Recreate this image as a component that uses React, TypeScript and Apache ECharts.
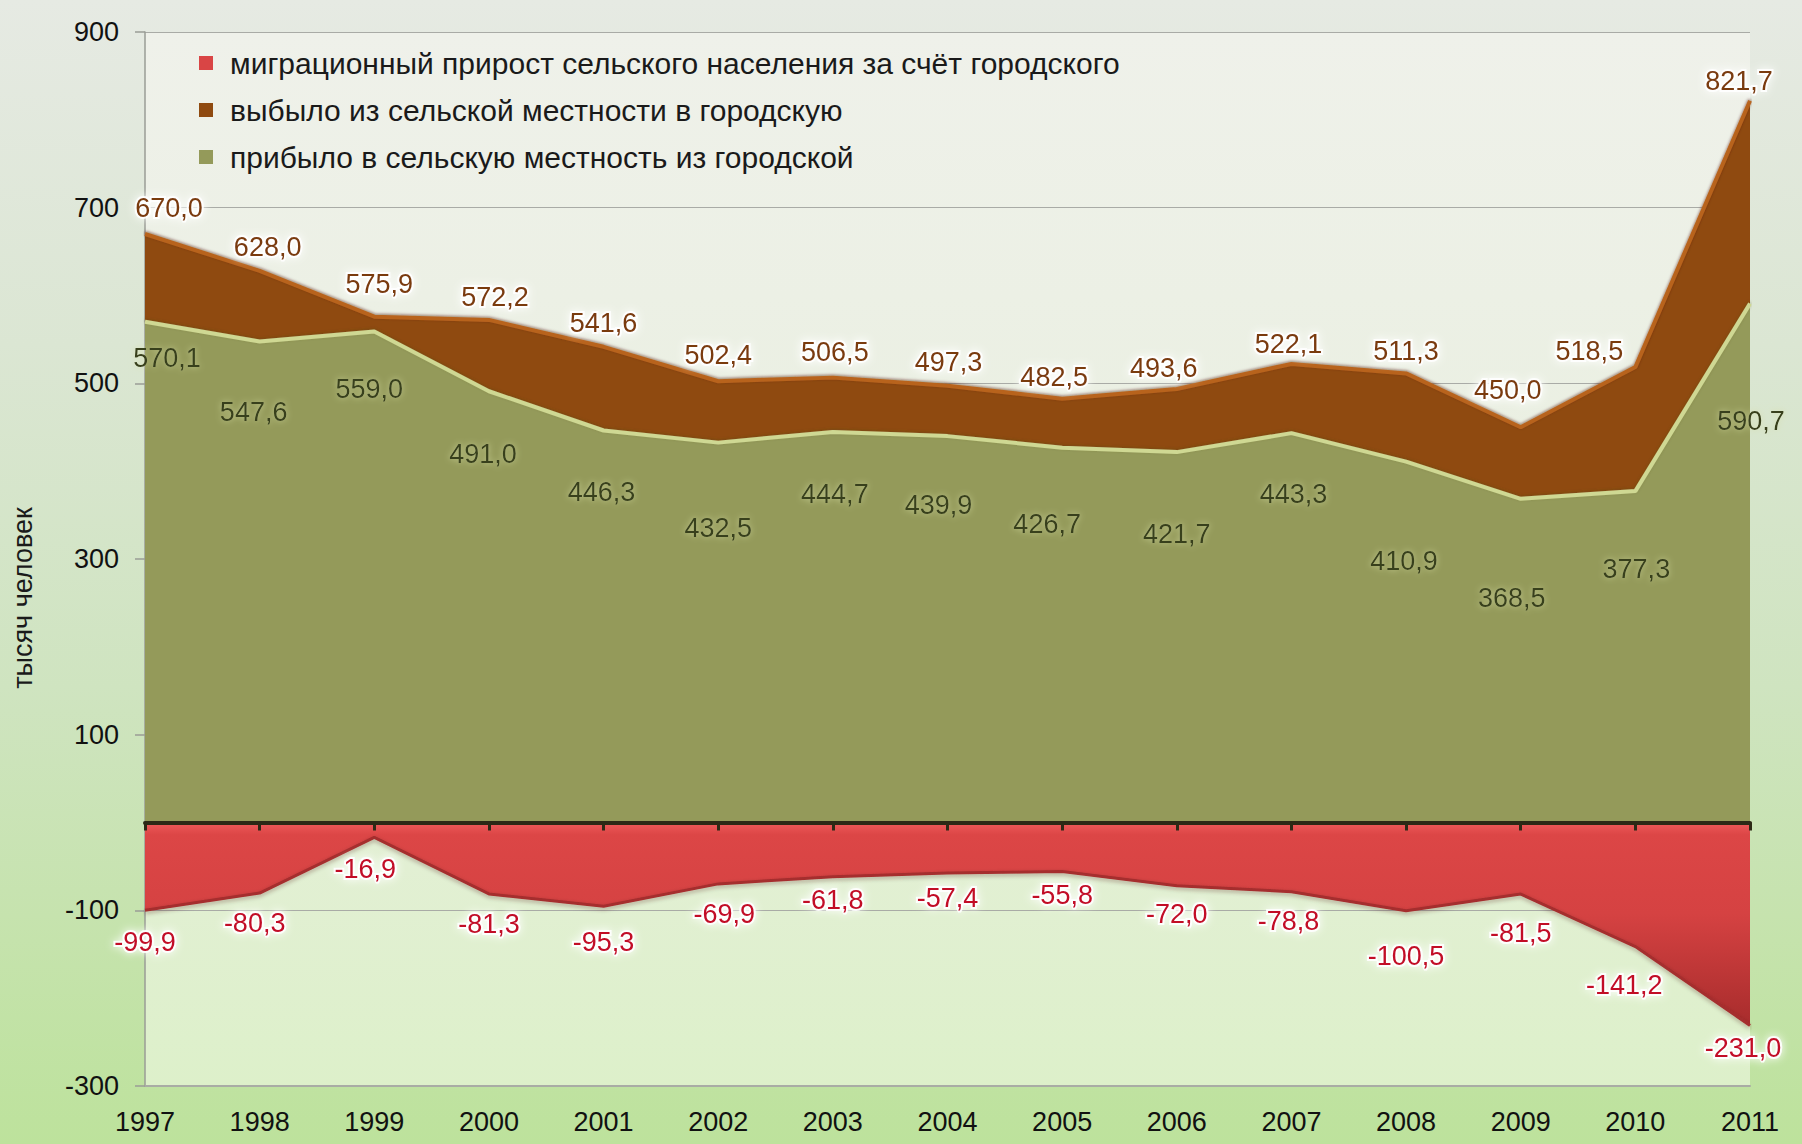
import React, { useEffect, useRef } from "react";
import * as echarts from "echarts";

const years = ["1997", "1998", "1999", "2000", "2001", "2002", "2003", "2004", "2005", "2006", "2007", "2008", "2009", "2010", "2011"];
const arrived = [570.1, 547.6, 559.0, 491.0, 446.3, 432.5, 444.7, 439.9, 426.7, 421.7, 443.3, 410.9, 368.5, 377.3, 590.7];
const departed = [670.0, 628.0, 575.9, 572.2, 541.6, 502.4, 506.5, 497.3, 482.5, 493.6, 522.1, 511.3, 450.0, 518.5, 821.7];
const netGain = [-99.9, -80.3, -16.9, -81.3, -95.3, -69.9, -61.8, -57.4, -55.8, -72.0, -78.8, -100.5, -81.5, -141.2, -231.0];

const nameGain = "миграционный прирост сельского населения за счёт городского";
const nameDeparted = "выбыло из сельской местности в городскую";
const nameArrived = "прибыло в сельскую местность из городской";
const yAxisTitle = "тысяч человек";

// label nudges (pixels) relative to each point
const departedLabelDx = [24, 8, 5, 6, 0, 0, 2, 1, -8, -13, -3, 0, -13, -46, -11];
const departedLabelDy = [-26, -24, -33, -23, -24, -26, -26, -24, -22, -21, -20, -22, -37, -16, -20];
const arrivedLabelDx = [22, -6, -5, -6, -2, 0, 2, -9, -15, 0, 2, -2, -9, 1, 1];
const arrivedLabelDy = [36, 70, 57, 63, 62, 85, 62, 69, 76, 82, 61, 99, 99, 78, 117];
const gainLabelDx = [0, -5, -9, 0, 0, 6, 0, 0, 0, 0, -3, 0, 0, -11, -7];
const gainLabelDy = [32, 30, 32, 30, 36, 30, 23, 25, 23, 28, 29, 45, 39, 38, 23];

const FONT = "'Liberation Sans', Arial, sans-serif";
const fmt = (v: number) => v.toFixed(1).replace(".", ",");

const withOffsets = (vals: number[], dx: number[], dy: number[]) =>
  vals.map((v, i) => ({ value: v, label: { offset: [dx[i], dy[i]] } }));

export default function App() {
  const ref = useRef<HTMLDivElement>(null);
  useEffect(() => {
    if (!ref.current) return;
    const chart = echarts.init(ref.current, null, { renderer: "svg" });
    const G = echarts.graphic.LinearGradient;
    const labelBase = {
      show: true,
      position: "inside",
      fontSize: 27,
      fontFamily: FONT,
      formatter: (p: any) => fmt(p.value),
    };
    chart.setOption({
      animation: false,
      backgroundColor: "transparent",
      grid: {
        left: 145,
        right: 52,
        top: 32,
        bottom: 58,
        show: true,
        borderWidth: 0,
        backgroundColor: new G(0, 0, 0, 1, [
          { offset: 0, color: "#eff1ea" },
          { offset: 0.5, color: "#e9efe0" },
          { offset: 1, color: "#ddf0ca" },
        ]),
      },
      legend: {
        data: [nameGain, nameDeparted, nameArrived],
        orient: "vertical",
        left: 194,
        top: 43,
        icon: "rect",
        itemWidth: 14,
        itemHeight: 14,
        itemGap: 17,
        selectedMode: false,
        textStyle: {
          fontSize: 30,
          lineHeight: 30,
          fontFamily: FONT,
          color: "#1a1a1a",
          padding: [0, 0, 0, 12],
        },
      },
      graphic: [
        {
          type: "text",
          x: 23,
          y: 598,
          rotation: Math.PI / 2,
          style: {
            text: yAxisTitle,
            fontSize: 27,
            fontFamily: FONT,
            fill: "#1a1a1a",
            align: "center",
            verticalAlign: "middle",
          },
        },
      ],
      xAxis: [
        {
          type: "category",
          data: years,
          boundaryGap: false,
          position: "bottom",
          axisLine: { onZero: false, lineStyle: { color: "#a9aca5", width: 2 } },
          axisTick: { show: false },
          axisLabel: { fontSize: 27, fontFamily: FONT, color: "#111111", margin: 22 },
          splitLine: { show: false },
        },
        {
          type: "category",
          data: years,
          boundaryGap: false,
          position: "bottom",
          z: 10,
          axisLine: { onZero: true, lineStyle: { color: "#2c2916", width: 4 } },
          axisTick: { show: true, inside: false, length: 8, lineStyle: { color: "#2c2916", width: 3 } },
          axisLabel: { show: false },
          splitLine: { show: false },
        },
      ],
      yAxis: {
        type: "value",
        min: -300,
        max: 900,
        interval: 200,
        axisLine: { show: true, lineStyle: { color: "#9a9c96", width: 1.5 } },
        axisTick: { show: true, length: 10, lineStyle: { color: "#9a9c96", width: 1.5 } },
        axisLabel: { fontSize: 27, fontFamily: FONT, color: "#111111", margin: 26 },
        splitLine: { show: true, lineStyle: { color: "#a9aba6", width: 1.2 } },
      },
      series: [
        {
          name: nameDeparted,
          type: "line",
          data: withOffsets(departed, departedLabelDx, departedLabelDy),
          symbol: "circle",
          symbolSize: 0,
          itemStyle: { color: "#8f4a10" },
          lineStyle: {
            color: "#b8631f",
            width: 4,
            shadowColor: "rgba(70,25,0,0.55)",
            shadowBlur: 3,
            shadowOffsetY: -1,
          },
          areaStyle: { color: "#8f4a10", opacity: 1 },
          label: {
            ...labelBase,
            color: "#7a3a10",
            textBorderColor: "rgba(255,255,255,0.9)",
            textBorderWidth: 4,
            textShadowColor: "#ffffff",
            textShadowBlur: 8,
          },
          z: 2,
        },
        {
          name: nameArrived,
          type: "line",
          data: withOffsets(arrived, arrivedLabelDx, arrivedLabelDy),
          symbol: "circle",
          symbolSize: 0,
          itemStyle: { color: "#949a5a" },
          lineStyle: {
            color: "#cfd893",
            width: 4,
            shadowColor: "rgba(80,70,20,0.35)",
            shadowBlur: 3,
            shadowOffsetY: -1,
          },
          areaStyle: { color: "#949a5a", opacity: 1 },
          label: {
            ...labelBase,
            color: "#38411a",
            textShadowColor: "rgba(215,222,165,0.8)",
            textShadowBlur: 6,
          },
          z: 3,
        },
        {
          name: nameGain,
          type: "line",
          data: withOffsets(netGain, gainLabelDx, gainLabelDy),
          symbol: "circle",
          symbolSize: 0,
          itemStyle: { color: "#d94545" },
          lineStyle: {
            color: "#a52e2e",
            width: 3,
            shadowColor: "rgba(60,10,10,0.35)",
            shadowBlur: 4,
            shadowOffsetY: 2,
          },
          areaStyle: {
            opacity: 1,
            color: new G(0, 0, 0, 1, [
              { offset: 0, color: "#ee5a5a" },
              { offset: 0.06, color: "#dc4646" },
              { offset: 0.45, color: "#d54242" },
              { offset: 1, color: "#a82c2c" },
            ]),
          },
          label: {
            ...labelBase,
            color: "#c20a26",
            textBorderColor: "rgba(255,255,255,0.9)",
            textBorderWidth: 4,
            textShadowColor: "#ffffff",
            textShadowBlur: 8,
          },
          z: 4,
        },
      ],
    });
    return () => chart.dispose();
  }, []);
  return (
    <div
      style={{
        position: "absolute",
        left: 0,
        top: 0,
        width: 1802,
        height: 1144,
        background: "linear-gradient(180deg, #e6eae3 0%, #dbe6d3 30%, #cfe4c0 60%, #bde29c 100%)",
      }}
    >
      <div ref={ref} style={{ width: 1802, height: 1144 }} />
    </div>
  );
}
